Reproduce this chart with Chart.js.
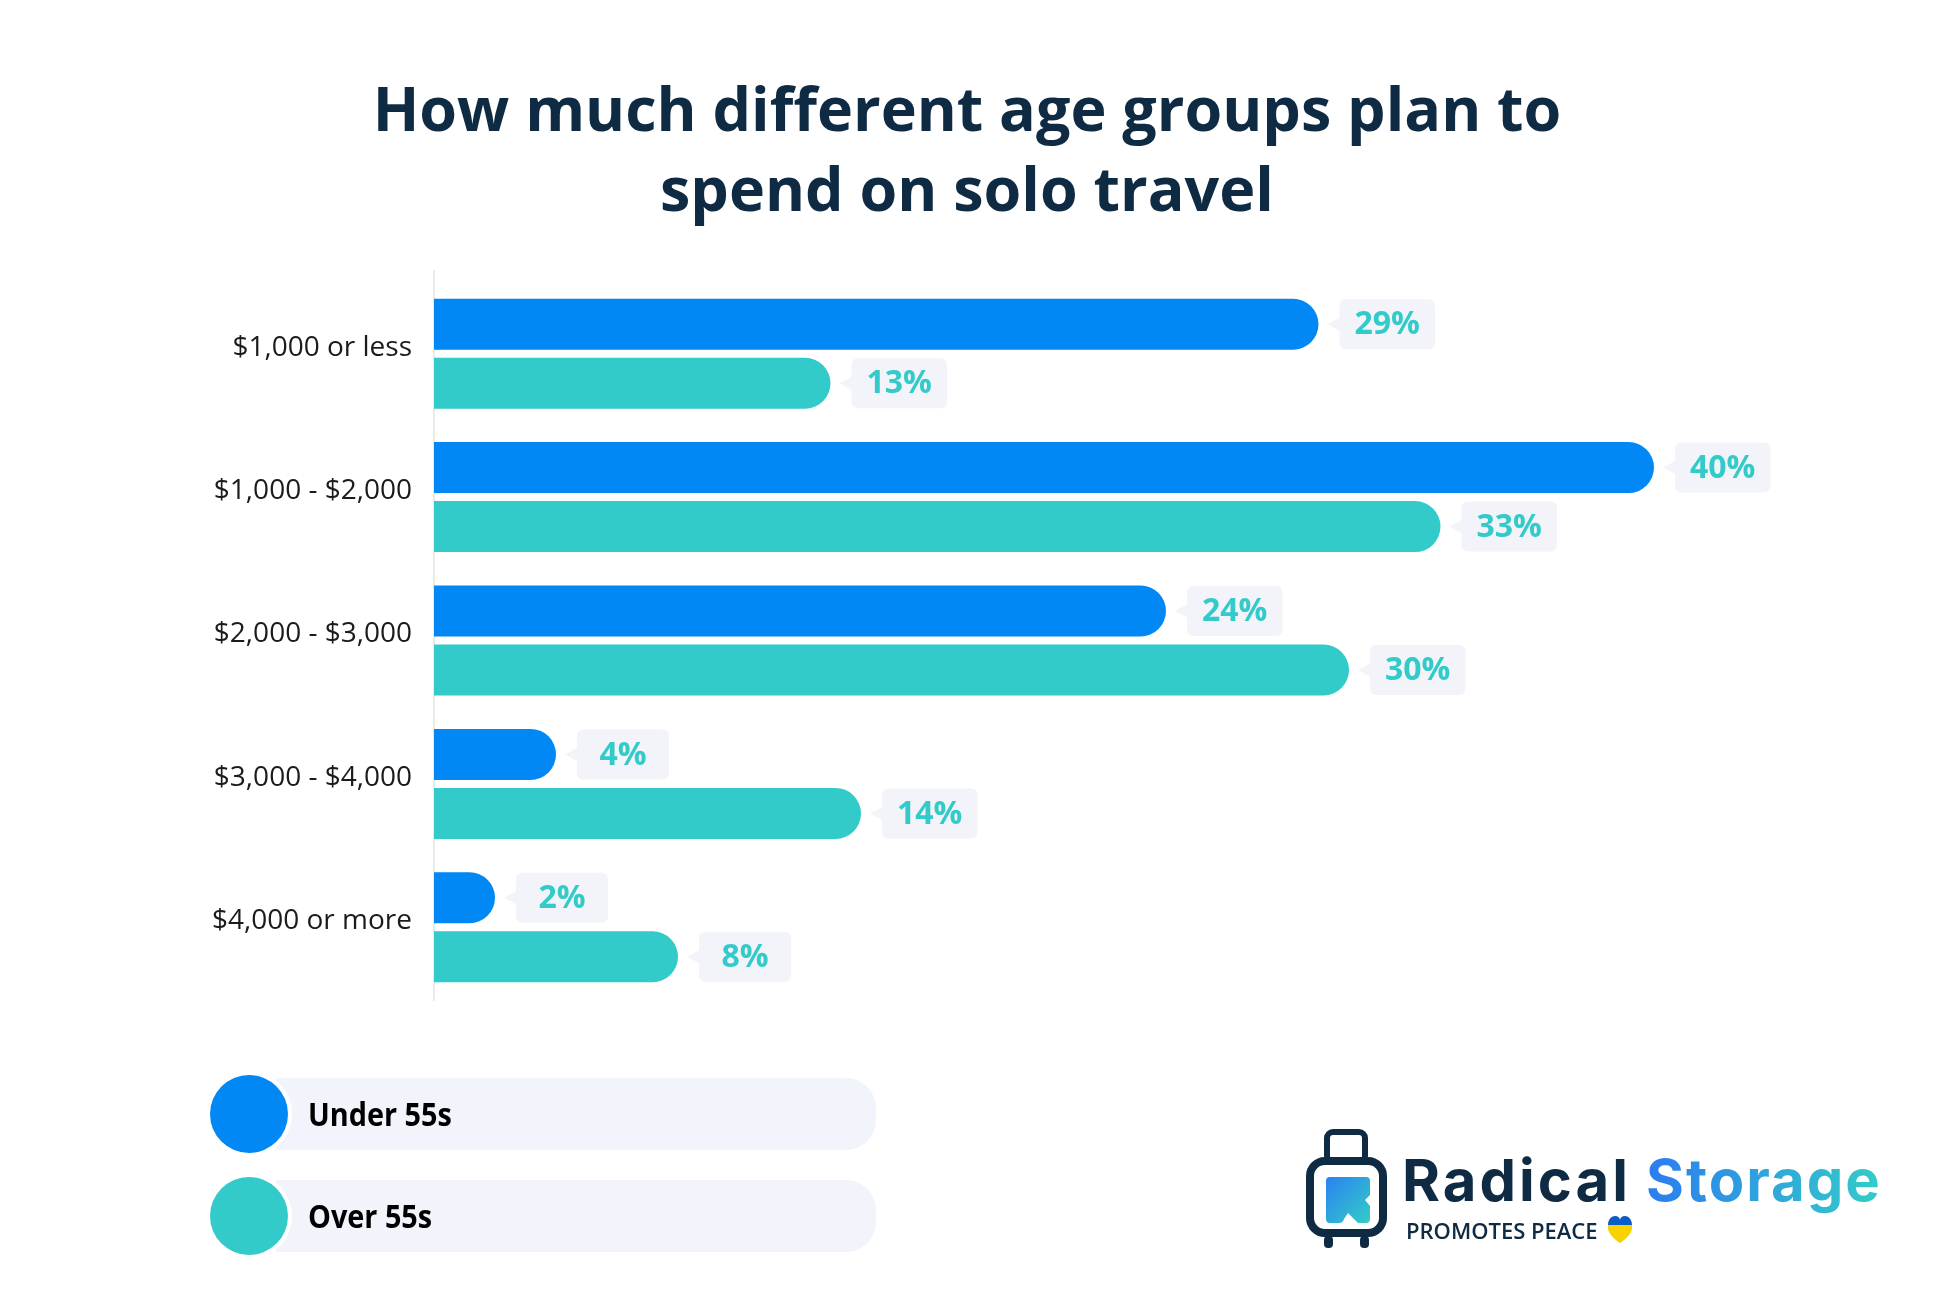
<!DOCTYPE html>
<html>
<head>
<meta charset="utf-8">
<title>Solo travel spend by age group</title>
<script src="https://cdn.jsdelivr.net/npm/chart.js@4.4.0/dist/chart.umd.min.js"></script>
<style>
  html, body { margin: 0; padding: 0; background: #fff; }
  body { width: 1945px; height: 1310px; position: relative; overflow: hidden; font-family: "Open Sans", sans-serif; }
  #chart { position: absolute; left: 0; top: 0; }
  .title {
    position: absolute; left: 0; top: 68px; width: 1934px;
    text-align: center; font-weight: 700; font-size: 61px; line-height: 80px; color: #0f2b44;
  }
  .legend { position: absolute; left: 210px; top: 1075px; }
  .legend-row { position: relative; height: 78px; width: 670px; margin-bottom: 24px; }
  .legend-pill {
    position: absolute; left: 66px; top: 3px; width: 600px; height: 72px;
    background: #f1f4fb; border-radius: 0 30px 30px 0;
  }
  .legend-dot {
    position: absolute; left: 0; top: 0; width: 78px; height: 78px; border-radius: 50%;
    box-shadow: 0 0 0 4px #fff;
  }
  .legend-text {
    position: absolute; left: 98px; top: 0; line-height: 78px; font-size: 32px; font-weight: 700; color: #000;
    transform: scaleX(0.9); transform-origin: left center; white-space: nowrap;
  }
  .logo-word { position: absolute; top: 1145px; font-family: Inter, sans-serif; font-weight: 700; font-size: 58px; line-height: 70px; }
  .radical { left: 1402px; color: #0f2b44; letter-spacing: 3px; }
  .storage { left: 1646px; letter-spacing: 2px; background: linear-gradient(90deg, #2b7cf0, #33cdc8); -webkit-background-clip: text; background-clip: text; color: transparent; }
  .peace { position: absolute; left: 1406px; top: 1216px; font-size: 22px; font-weight: 600; color: #0f2b44; line-height: 28px; }
</style>
</head>
<body>
<canvas id="chart" width="1945" height="1310"></canvas>
<div class="title">How much different age groups plan to<br>spend on solo travel</div>
<div class="legend" id="legend"></div>

<svg style="position:absolute;left:0;top:0" width="1945" height="1310">
  <defs>
    <linearGradient id="kgrad" x1="0" y1="0" x2="1" y2="1">
      <stop offset="0" stop-color="#2a82f0"/>
      <stop offset="1" stop-color="#33cdc8"/>
    </linearGradient>
  </defs>
  <rect x="1327" y="1132" width="38" height="30" rx="6" fill="none" stroke="#0f2b44" stroke-width="6"/>
  <rect x="1310" y="1161" width="73" height="72" rx="15" fill="#fff" stroke="#0f2b44" stroke-width="8"/>
  <path d="M1326 1181 q0 -4 4 -4 h36 q4 0 4 4 v14 l-5 5 l5 6 v13 q0 4 -4 4 h-8 l-10 -10 l-4 6 q-1 4 -5 4 h-9 q-4 0 -4 -4 z" fill="url(#kgrad)"/>
  <rect x="1324" y="1236" width="9" height="12" rx="4" fill="#0f2b44"/>
  <rect x="1360" y="1236" width="9" height="12" rx="4" fill="#0f2b44"/>
  <path d="M1620 1243 C1612 1236 1608 1231 1608 1225 C1608 1219 1612 1216 1615 1216 C1618 1216 1620 1218 1620 1220 C1620 1218 1622 1216 1625 1216 C1628 1216 1632 1219 1632 1225 L1608 1225 Z" fill="#0a5cc7"/>
  <path d="M1608 1229 L1632 1229 C1631 1234 1627 1238 1620 1243 C1613 1238 1609 1234 1608 1229 Z" fill="#f8d200"/>
  <rect x="1608" y="1225" width="24" height="4" fill="#f8d200"/>
</svg>
<div class="logo-word radical">Radical</div>
<div class="logo-word storage">Storage</div>
<div class="peace">PROMOTES PEACE</div>

<script>
// data
const categories = ['$1,000 or less', '$1,000 - $2,000', '$2,000 - $3,000', '$3,000 - $4,000', '$4,000 or more'];
const under55 = [29, 40, 24, 4, 2];
const over55 = [13, 33, 30, 14, 8];
const seriesNames = ['Under 55s', 'Over 55s'];
const seriesColors = ['#0288f5', '#33caca'];

Chart.defaults.font.family = '"Open Sans", sans-serif';

// little grey callout with the percentage next to each bar end
const calloutPlugin = {
  id: 'callouts',
  afterDatasetsDraw(chart) {
    const ctx = chart.ctx;
    ctx.save();
    ctx.font = 'bold 32px "Open Sans"';
    chart.data.datasets.forEach(function(ds, di) {
      const meta = chart.getDatasetMeta(di);
      meta.data.forEach(function(bar, i) {
        const txt = ds.data[i] + '%';
        const tw = ctx.measureText(txt).width;
        const x = bar.x, y = bar.y;
        const bx = x + 21, bw = Math.max(92, tw + 30), bh = 50;
        ctx.fillStyle = '#f2f4f9';
        ctx.beginPath();
        ctx.moveTo(x + 9, y);
        ctx.lineTo(bx + 1, y - 7);
        ctx.lineTo(bx + 1, y + 7);
        ctx.closePath();
        ctx.fill();
        ctx.beginPath();
        ctx.roundRect(bx, y - bh / 2, bw, bh, 6);
        ctx.fill();
        ctx.fillStyle = '#33caca';
        ctx.textAlign = 'center';
        ctx.textBaseline = 'middle';
        ctx.fillText(txt, bx + bw / 2, y + 1);
      });
    });
    ctx.restore();
  }
};

// light vertical axis line, a bit taller than the plot area
const axisLinePlugin = {
  id: 'axisLine',
  beforeDatasetsDraw(chart) {
    const a = chart.chartArea;
    const ctx = chart.ctx;
    ctx.save();
    ctx.strokeStyle = '#ebebeb';
    ctx.lineWidth = 2;
    ctx.beginPath();
    ctx.moveTo(a.left, a.top - 12);
    ctx.lineTo(a.left, a.bottom + 2);
    ctx.stroke();
    ctx.restore();
  }
};

const chart = new Chart(document.getElementById('chart'), {
  type: 'bar',
  data: {
    labels: categories,
    datasets: [{
      label: seriesNames[0],
      data: under55,
      backgroundColor: seriesColors[0],
      borderRadius: 30,
      borderSkipped: 'start'
    }, {
      label: seriesNames[1],
      data: over55,
      backgroundColor: seriesColors[1],
      borderRadius: 30,
      borderSkipped: 'start'
    }]
  },
  options: {
    indexAxis: 'y',
    responsive: false,
    animation: false,
    categoryPercentage: 0.823,
    barPercentage: 0.864,
    layout: { padding: { top: 282, bottom: 311, left: 0, right: 47 } },
    plugins: {
      legend: { display: false },
      tooltip: { enabled: false },
      title: { display: false }
    },
    scales: {
      x: { display: false, min: 0, max: 48 },
      y: {
        grid: { display: false },
        border: { display: false },
        ticks: { color: '#1b1b1b', padding: 14, labelOffset: -6, font: { size: 28 } },
        afterFit(scale) { scale.width = 434; }
      }
    }
  },
  plugins: [axisLinePlugin, calloutPlugin]
});

// html legend from the datasets
const legend = document.getElementById('legend');
chart.data.datasets.forEach(function(ds) {
  const row = document.createElement('div');
  row.className = 'legend-row';
  row.innerHTML = '<div class="legend-pill"></div>' +
    '<div class="legend-dot" style="background:' + ds.backgroundColor + '"></div>' +
    '<div class="legend-text">' + ds.label + '</div>';
  legend.appendChild(row);
});
</script>
</body>
</html>
